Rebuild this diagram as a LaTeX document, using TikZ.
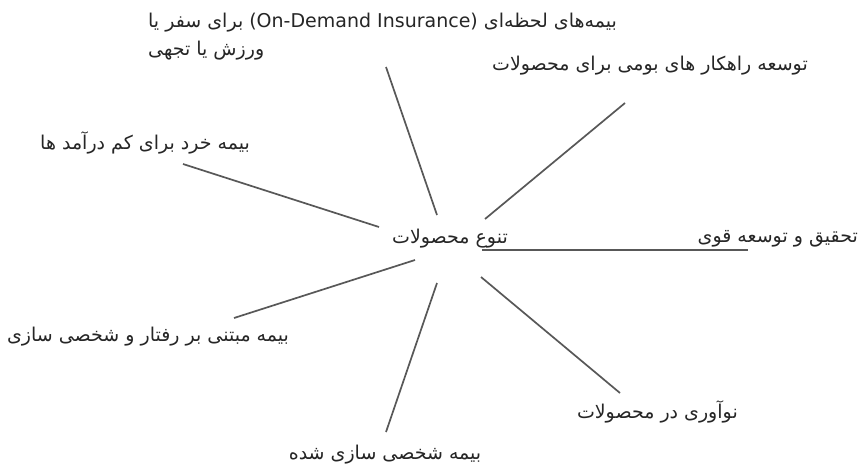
\documentclass[tikz,border=0pt]{standalone}
\usepackage{fontspec}
\TeXXeTstate=1
\newfontfamily\arabicfont[Script=Arabic]{DejaVu Sans}
\setmainfont{DejaVu Sans}
\begin{document}
\begin{tikzpicture}[x=1pt,y=-1pt,
  lbl/.style={inner sep=0pt,font=\arabicfont\fontsize{19}{28}\selectfont,text=black!85},
  spoke/.style={draw={rgb,255:red,88;green,88;blue,88},line width=1.7pt}]
\useasboundingbox[fill=white] (0,0) rectangle (864,469);

% labels
\node[lbl,anchor=east] (hub) at (508,239) {\beginR تنوع محصولات\endR};
\node[lbl,anchor=north west,align=left] (ondemand) at (148,13)
  {\beginR بیمه‌های لحظه‌ای \beginL(On-Demand Insurance)\endL{} برای سفر یا\endR\\
   \beginR ورزش یا تجهی\endR};
\node[lbl,anchor=east] (native) at (808,66) {\beginR توسعه راهکار های بومی برای محصولات\endR};
\node[lbl,anchor=east] (micro) at (250,143) {\beginR بیمه خرد برای کم درآمد ها\endR};
\node[lbl,anchor=east] (rnd) at (858,239) {\beginR تحقیق و توسعه قوی\endR};
\node[lbl] (behav) at (148,337) {\beginR بیمه مبتنی بر رفتار و شخصی سازی\endR};
\node[lbl,anchor=east] (innov) at (738,412) {\beginR نوآوری در محصولات\endR};
\node[lbl] (custom) at (385,455) {\beginR بیمه شخصی سازی شده\endR};

% spoke end points
\coordinate (h1) at (437,215);  \coordinate (e1) at (386,67);
\coordinate (h2) at (485,219);  \coordinate (e2) at (625,103);
\coordinate (h3) at (379,227);  \coordinate (e3) at (183,164);
\coordinate (h4) at (482,250);  \coordinate (e4) at (748,250);
\coordinate (h5) at (415,260);  \coordinate (e5) at (234,318);
\coordinate (h6) at (437,283);  \coordinate (e6) at (386,432);
\coordinate (h7) at (481,277);  \coordinate (e7) at (620,393);

% spokes
\draw[spoke] (h1) -- (e1);
\draw[spoke] (h2) -- (e2);
\draw[spoke] (h3) -- (e3);
\draw[spoke] (h4) -- (e4);
\draw[spoke] (h5) -- (e5);
\draw[spoke] (h6) -- (e6);
\draw[spoke] (h7) -- (e7);
\end{tikzpicture}
\end{document}
